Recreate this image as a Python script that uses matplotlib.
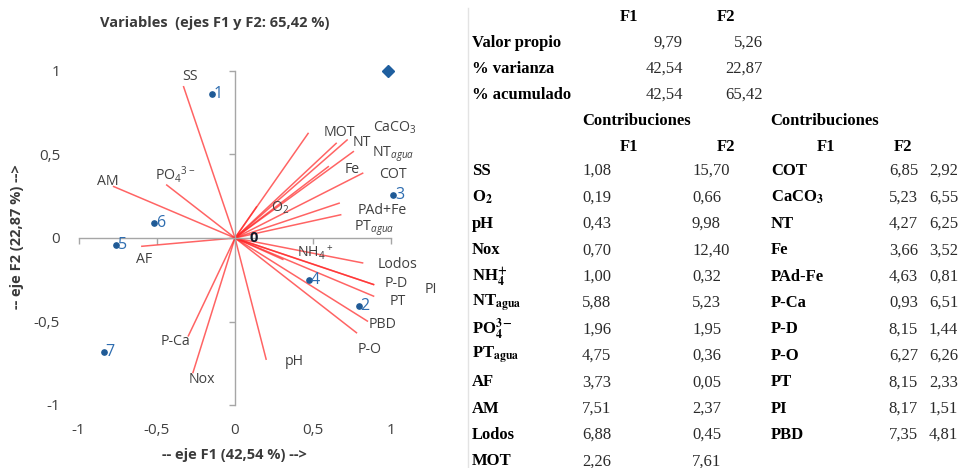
import matplotlib
matplotlib.use("Agg")
import matplotlib.pyplot as plt
from matplotlib.ticker import FuncFormatter

plt.rcParams['font.family'] = ['Open Sans', 'DejaVu Sans']
plt.rcParams['mathtext.fontset'] = 'custom'
plt.rcParams['mathtext.rm'] = 'Open Sans'
plt.rcParams['mathtext.it'] = 'Open Sans:italic'
plt.rcParams['mathtext.bf'] = 'Open Sans:bold'

# ---- PCA loadings of the variables (correlation circle) ----
var_labels = ['SS', r'O$_2$', 'pH', 'Nox', r'NH$_4$$^+$', r'NT$_{\it{agua}}$',
              r'PO$_4$$^{3-}$', r'PT$_{\it{agua}}$', 'AF', 'AM', 'Lodos', 'MOT',
              'COT', r'CaCO$_3$', 'NT', 'Fe', 'PAd+Fe', 'P-Ca', 'P-D', 'P-O',
              'PT', 'PI', 'PBD']
load_f1 = [-0.33, 0.14, 0.20, -0.27, 0.31, 0.76, -0.44, 0.68, -0.60, -0.78, 0.82, 0.47,
           0.82, 0.72, 0.65, 0.60, 0.67, -0.30, 0.89, 0.78, 0.89, 0.89, 0.85]
load_f2 = [0.91, 0.19, -0.73, -0.81, -0.13, 0.52, 0.32, 0.14, -0.05, 0.31, -0.15, 0.63,
           0.39, 0.59, 0.57, 0.43, 0.21, -0.59, -0.28, -0.57, -0.35, -0.28, -0.50]

# ---- observations (sites) ----
obs_labels = ['1', '2', '3', '4', '5', '6', '7']
obs_f1 = [-0.15, 0.79, 1.01, 0.47, -0.76, -0.52, -0.84]
obs_f2 = [0.86, -0.41, 0.26, -0.25, -0.04, 0.09, -0.68]

# ---- eigen table ----
eig_rows = ['Valor propio', '% varianza', '% acumulado']
eig_f1 = ['9,79', '42,54', '42,54']
eig_f2 = ['5,26', '22,87', '65,42']

# ---- contributions table ----
contrib_left_names = ['SS', r'O$_\mathbf{2}$', 'pH', 'Nox', r'NH$_\mathbf{4}^\mathbf{+}$',
                      r'NT$_\mathbf{agua}$', r'PO$_\mathbf{4}^\mathbf{3-}$',
                      r'PT$_\mathbf{agua}$', 'AF', 'AM', 'Lodos', 'MOT']
contrib_left_f1 = ['1,08', '0,19', '0,43', '0,70', '1,00', '5,88', '1,96', '4,75',
                   '3,73', '7,51', '6,88', '2,26']
contrib_left_f2 = ['15,70', '0,66', '9,98', '12,40', '0,32', '5,23', '1,95', '0,36',
                   '0,05', '2,37', '0,45', '7,61']
contrib_right_names = ['COT', r'CaCO$_\mathbf{3}$', 'NT', 'Fe', 'PAd-Fe', 'P-Ca', 'P-D',
                       'P-O', 'PT', 'PI', 'PBD']
contrib_right_f1 = ['6,85', '5,23', '4,27', '3,66', '4,63', '0,93', '8,15', '6,27',
                    '8,15', '8,17', '7,35']
contrib_right_f2 = ['2,92', '6,55', '6,25', '3,52', '0,81', '6,51', '1,44', '6,26',
                    '2,33', '1,51', '4,81']

# label placement for the variable names (data coordinates)
var_label_pos = {
    'SS': (-0.29, 0.97), r'O$_2$': (0.29, 0.18), 'pH': (0.38, -0.74),
    'Nox': (-0.21, -0.85), r'NH$_4$$^+$': (0.51, -0.09),
    r'NT$_{\it{agua}}$': (1.01, 0.50), r'PO$_4$$^{3-}$': (-0.38, 0.38),
    r'PT$_{\it{agua}}$': (0.89, 0.06), 'AF': (-0.58, -0.13), 'AM': (-0.81, 0.34),
    'Lodos': (1.04, -0.16), 'MOT': (0.67, 0.63), 'COT': (1.01, 0.38),
    r'CaCO$_3$': (1.02, 0.66), 'NT': (0.81, 0.57), 'Fe': (0.75, 0.41),
    'PAd+Fe': (0.94, 0.165), 'P-Ca': (-0.38, -0.62), 'P-D': (1.03, -0.275),
    'P-O': (0.86, -0.67), 'PT': (1.04, -0.38), 'PI': (1.25, -0.31),
    'PBD': (0.94, -0.52),
}

W, H = 960, 468
fig = plt.figure(figsize=(W / 100, H / 100), dpi=100)

# axes placed so that the unit circle region sits on the left half
x0, x1 = -1.1, 1.35
y0, y1 = -1.08, 1.10
px_per_x, px_per_y = 156.5, 167.0
ox, oy = 235.0, 238.0
left_px = ox + x0 * px_per_x
right_px = ox + x1 * px_per_x
top_px = oy - y1 * px_per_y
bot_px = oy - y0 * px_per_y
pos = [left_px / W, 1 - bot_px / H, (right_px - left_px) / W, (bot_px - top_px) / H]

# tick-label layer (labels sit on the outer edge, Excel style)
axl = fig.add_axes(pos)
axl.set_xlim(x0, x1)
axl.set_ylim(y0, y1)
ticks = [-1, -0.5, 0, 0.5, 1]
fmt = FuncFormatter(lambda v, p: f'{v:g}'.replace('.', ','))
axl.set_xticks(ticks)
axl.set_yticks(ticks)
axl.xaxis.set_major_formatter(fmt)
axl.yaxis.set_major_formatter(fmt)
axl.tick_params(length=0, labelsize=11, labelcolor='#404040', pad=2)
axl.tick_params(axis='x', pad=3)
for s in axl.spines.values():
    s.set_visible(False)
axl.patch.set_visible(False)

# drawing layer with the cross-shaped axes through the origin
ax = fig.add_axes(pos)
ax.set_xlim(x0, x1)
ax.set_ylim(y0, y1)
ax.patch.set_visible(False)
for side in ['top', 'right']:
    ax.spines[side].set_visible(False)
for side in ['left', 'bottom']:
    ax.spines[side].set_position(('data', 0))
    ax.spines[side].set_bounds(-1, 1)
    ax.spines[side].set_color('#A6A6A6')
    ax.spines[side].set_linewidth(1.0)
ax.set_xticks(ticks)
ax.set_yticks(ticks)
ax.tick_params(direction='out', length=4, width=1.0, color='#A6A6A6',
               labelleft=False, labelbottom=False)

# variable vectors
for lab, fx, fy in zip(var_labels, load_f1, load_f2):
    ax.plot([0, fx], [0, fy], color='#FF2828', alpha=0.72, lw=1.1,
            solid_capstyle='butt', zorder=2)
    lx, ly = var_label_pos[lab]
    ax.text(lx, ly, lab, ha='center', va='center', fontsize=10.2,
            color='#404040', zorder=3)

# observations
ax.plot(obs_f1, obs_f2, 'o', color='#1F5A96', markersize=3.8, zorder=4,
        linestyle='none')
for lab, fx, fy in zip(obs_labels, obs_f1, obs_f2):
    ax.annotate(lab, (fx, fy), xytext=(1.5, 0), textcoords='offset points',
                ha='left', va='center', fontsize=11.5, color='#2E6DB0', zorder=4)
ax.text(0.12, 0.0, '0', ha='center', va='center', fontsize=10.5,
        fontweight='bold', color='#101828', zorder=4)
ax.plot([0.98], [1.0], marker='D', color='#1F5F9F', markersize=6.2,
        linestyle='none', zorder=4)

fig.text(215 / W, 1 - 23 / H, 'Variables  (ejes F1 y F2: 65,42 %)', ha='center',
         va='center', fontsize=10.5, fontweight='bold', color='#3A3A3A')
fig.text(234 / W, 1 - 455 / H, '-- eje F1 (42,54 %) -->', ha='center', va='center',
         fontsize=10.5, fontweight='bold', color='#3A3A3A')
fig.text(17 / W, 1 - 237 / H, '-- eje F2 (22,87 %) -->', ha='center', va='center',
         rotation=90, fontsize=10.5, fontweight='bold', color='#3A3A3A')

# ---- table on the right ----
SERIF = ['Liberation Serif', 'DejaVu Serif']
TS = 12


def tcell(x, y, s, ha='left', bold=False, color='#2A2A2A'):
    fig.text(x / W, 1 - y / H, s, ha=ha, va='center', fontsize=TS,
             family=SERIF, fontweight='bold' if bold else 'normal',
             color=color, math_fontfamily='stix')


fig.add_artist(plt.Line2D([468 / W, 468 / W], [1 - 8 / H, 0], color='#E3E3E3',
                          lw=1.0))

tcell(629, 17, 'F1', ha='center', bold=True, color='black')
tcell(726, 17, 'F2', ha='center', bold=True, color='black')
for i, (name, a, b) in enumerate(zip(eig_rows, eig_f1, eig_f2)):
    y = 43 + 26 * i
    tcell(472, y, name, bold=True, color='black')
    tcell(683, y, a, ha='right')
    tcell(763, y, b, ha='right')

tcell(582, 121, 'Contribuciones', bold=True, color='black')
tcell(770, 121, 'Contribuciones', bold=True, color='black')
tcell(629, 147, 'F1', ha='center', bold=True, color='black')
tcell(726, 147, 'F2', ha='center', bold=True, color='black')
tcell(826, 147, 'F1', ha='center', bold=True, color='black')
tcell(903, 147, 'F2', ha='center', bold=True, color='black')

row_step = 26.4
for i, (name, a, b) in enumerate(zip(contrib_left_names, contrib_left_f1,
                                     contrib_left_f2)):
    y = 171 + row_step * i
    tcell(472, y, name, bold=True, color='black')
    tcell(582, y, a)
    tcell(692, y, b)
for i, (name, a, b) in enumerate(zip(contrib_right_names, contrib_right_f1,
                                     contrib_right_f2)):
    y = 171 + row_step * i
    tcell(771, y, name, bold=True, color='black')
    tcell(918, y, a, ha='right')
    tcell(958, y, b, ha='right')

fig.savefig('out.png', dpi=100)
